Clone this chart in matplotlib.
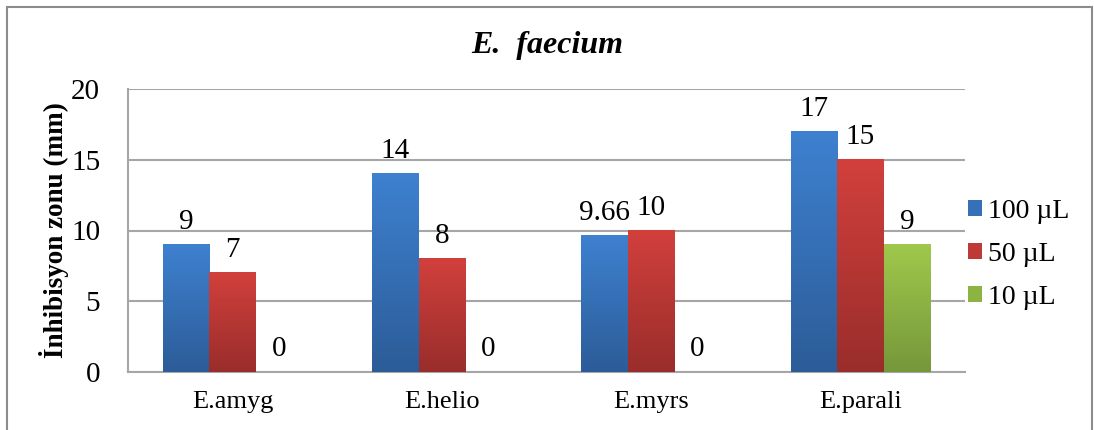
import matplotlib.pyplot as plt
import numpy as np
from matplotlib.colors import LinearSegmentedColormap
from matplotlib.patches import Rectangle

plt.rcParams['font.family'] = ['Liberation Serif', 'DejaVu Serif']

categories = ['E.amyg', 'E.helio', 'E.myrs', 'E.parali']
series = ['100 µL', '50 µL', '10 µL']
vals_100 = [9, 14, 9.66, 17]
vals_50 = [7, 8, 10, 15]
vals_10 = [0, 0, 0, 9]
labels_100 = ['9', '14', '9.66', '17']
labels_50 = ['7', '8', '10', '15']
labels_10 = ['0', '0', '0', '9']

# (top colour, bottom colour) for the gradient fills
grads = [('#3e81d0', '#2c5c98'), ('#d2403c', '#992d2b'), ('#a0c84c', '#76973a')]
solid = ['#3670b8', '#bf3936', '#8db343']

fig = plt.figure(figsize=(10.94, 4.30), dpi=100)
ax = fig.add_axes([128/1094, 58/430, 837/1094, 283/430])

# outer chart frame
fig.patches.append(Rectangle((7/1094, -0.05), 1085/1094, 1 - 7/430 + 0.05,
                             transform=fig.transFigure, fill=False,
                             edgecolor='#8c8c8c', linewidth=1.5))

x = np.arange(len(categories))
w = 0.222
data = [vals_100, vals_50, vals_10]
labs = [labels_100, labels_50, labels_10]
grad = np.linspace(0, 1, 256).reshape(-1, 1)

for i, (vals, lab) in enumerate(zip(data, labs)):
    pos = x + (i - 1) * w
    bars = ax.bar(pos, vals, w, color=solid[i], label=series[i], zorder=2)
    cmap = LinearSegmentedColormap.from_list('g%d' % i, [grads[i][1], grads[i][0]])
    for b in bars:
        if b.get_height() > 0:
            ax.imshow(grad, extent=[b.get_x(), b.get_x() + b.get_width(), 0, b.get_height()],
                      origin='lower', aspect='auto', cmap=cmap, zorder=3)
    for p, v, t in zip(pos, vals, lab):
        ax.annotate(t, (p, v), xytext=(0, 7), textcoords='offset points',
                    ha='center', va='bottom', fontsize=21)

ax.set_xlim(-0.5, 3.5)
ax.set_ylim(0, 20)
ax.set_yticks([0, 5, 10, 15, 20])
ax.set_xticks(x)
ax.set_xticklabels(categories)
ax.tick_params(axis='y', length=0, labelsize=21, pad=20)
ax.tick_params(axis='x', length=0, labelsize=19, pad=14)
ax.grid(True, axis='y', color='#a6a6a6', linewidth=1.5, zorder=0)
ax.set_axisbelow(True)
for s in ['top', 'right']:
    ax.spines[s].set_visible(False)
ax.spines['left'].set_color('#a6a6a6')
ax.spines['left'].set_linewidth(1.5)
ax.spines['bottom'].set_color('#a6a6a6')
ax.spines['bottom'].set_linewidth(1.5)

ax.set_ylabel('İnhibisyon zonu (mm)', fontsize=19.5, fontweight='bold', labelpad=1.5)
fig.text(0.5, 1 - 46/430, 'E.  faecium', ha='center', va='center',
         fontsize=23, fontweight='bold', fontstyle='italic')

ax.legend(loc='center left', bbox_to_anchor=(1.004, 0.415), frameon=False,
          fontsize=20, handlelength=0.5, handleheight=0.5, handletextpad=0.2,
          labelspacing=0.65, borderaxespad=0, borderpad=0)

plt.savefig('out.png', dpi=100)
